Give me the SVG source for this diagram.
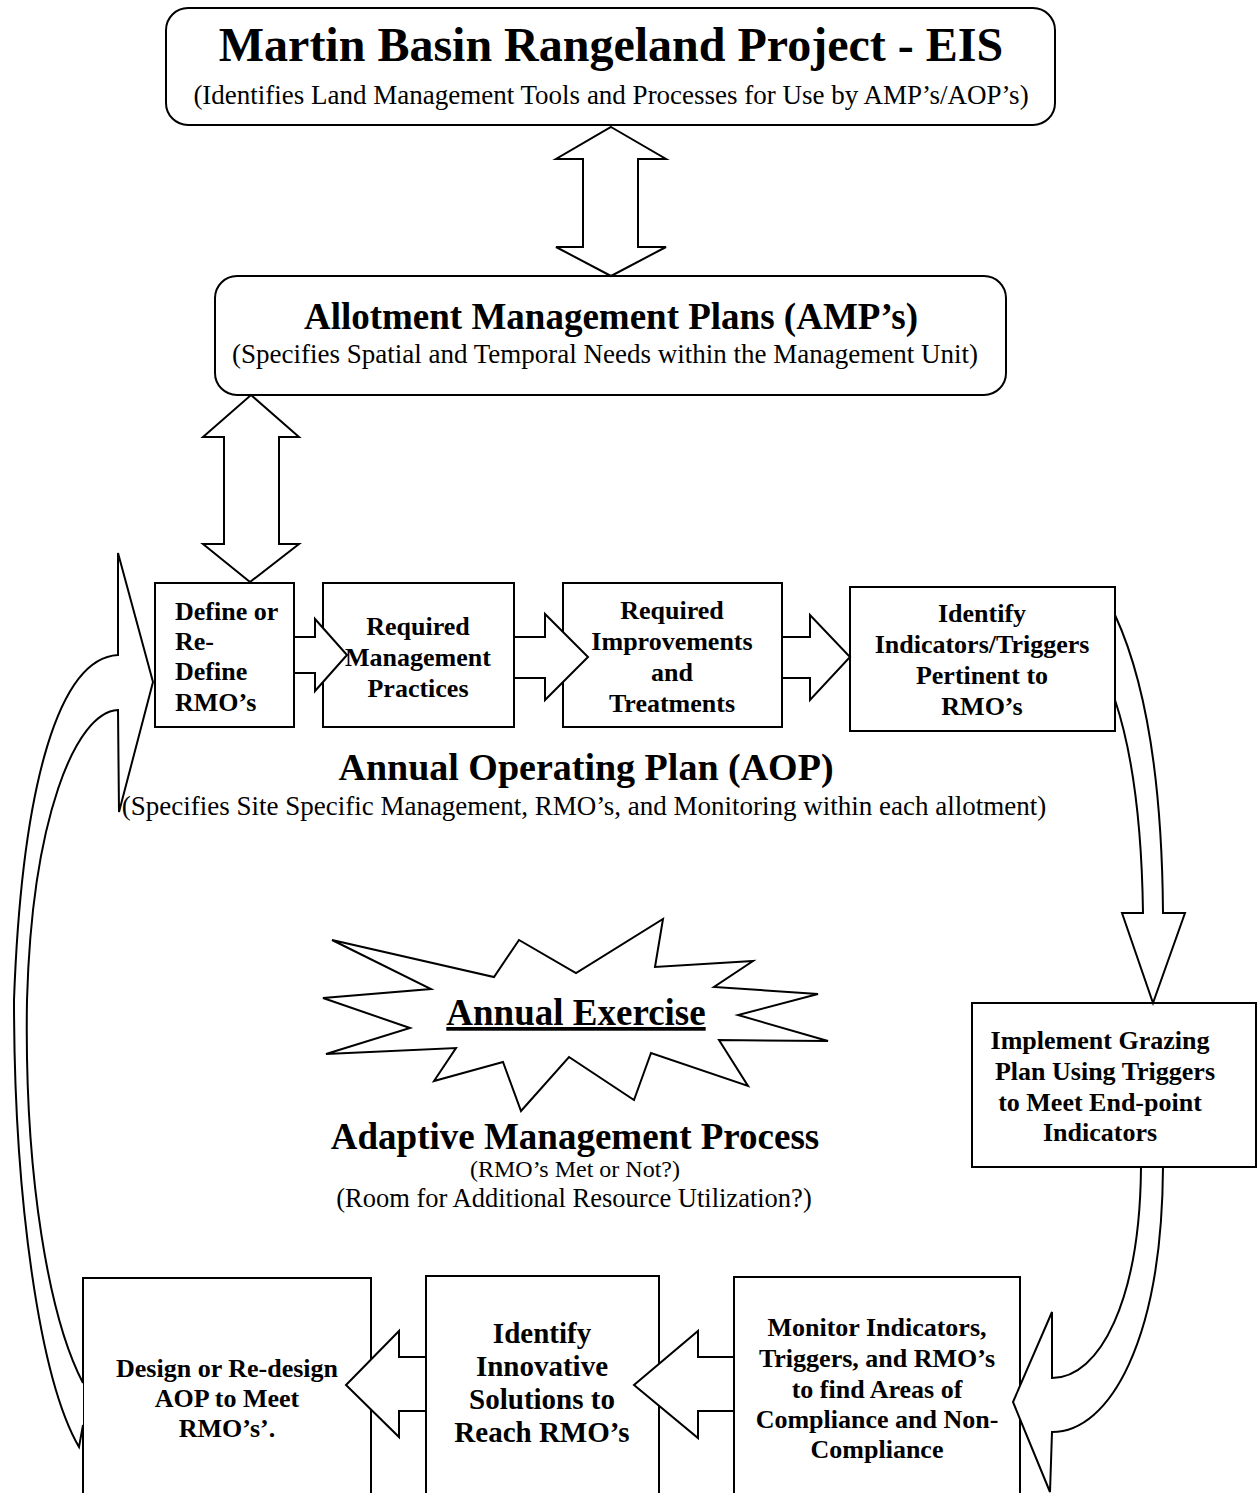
<svg xmlns="http://www.w3.org/2000/svg" width="1257" height="1493" viewBox="0 0 1257 1493">
<style>
  .shape { fill: #fff; stroke: #000; stroke-width: 2; stroke-linejoin: miter; }
  .conn { fill: #fff; stroke: #000; stroke-width: 2; stroke-linejoin: miter; }
  text { font-family: "Liberation Serif", "Times New Roman", serif; fill: #000; }
  .title { font-size: 48px; font-weight: bold; text-anchor: middle; }
  .head { font-size: 37px; font-weight: bold; text-anchor: middle; }
  .sub { font-size: 27px; text-anchor: middle; }
  .sub2 { font-size: 24px; text-anchor: middle; }
  .sub3 { font-size: 26.5px; text-anchor: middle; }
  .bt { font-size: 26px; font-weight: bold; text-anchor: middle; }
  .btl { font-size: 26px; font-weight: bold; }
  .bt29 { font-size: 29px; font-weight: bold; text-anchor: middle; }
</style>

<g id="eis">
  <rect class="shape" x="166" y="8" width="889" height="117" rx="22" ry="22"/>
  <text class="title" x="611" y="61">Martin Basin Rangeland Project - EIS</text>
  <text class="sub" x="611" y="104">(Identifies Land Management Tools and Processes for Use by AMP’s/AOP’s)</text>
</g>

<g id="amp">
  <rect class="shape" x="215" y="276" width="791" height="119" rx="22" ry="22"/>
  <text class="head" x="611" y="329">Allotment Management Plans (AMP’s)</text>
  <text class="sub" x="605" y="363">(Specifies Spatial and Temporal Needs within the Management Unit)</text>
</g>

<g id="define-rmo">
  <rect class="shape" x="155" y="583" width="139" height="144"/>
  <text class="btl" x="175" y="620">Define or</text>
  <text class="btl" x="175" y="650">Re-</text>
  <text class="btl" x="175" y="680">Define</text>
  <text class="btl" x="175" y="711">RMO’s</text>
</g>

<g id="mgmt-practices">
  <rect class="shape" x="323" y="583" width="191" height="144"/>
  <text class="bt" x="418" y="635">Required</text>
  <text class="bt" x="418" y="666">Management</text>
  <text class="bt" x="418" y="697">Practices</text>
</g>

<g id="improvements">
  <rect class="shape" x="563" y="583" width="219" height="144"/>
  <text class="bt" x="672" y="619">Required</text>
  <text class="bt" x="672" y="650">Improvements</text>
  <text class="bt" x="672" y="681">and</text>
  <text class="bt" x="672" y="712">Treatments</text>
</g>

<g id="indicators">
  <rect class="shape" x="850" y="587" width="265" height="144"/>
  <text class="bt" x="982" y="622">Identify</text>
  <text class="bt" x="982" y="653">Indicators/Triggers</text>
  <text class="bt" x="982" y="684">Pertinent to</text>
  <text class="bt" x="982" y="715">RMO’s</text>
</g>

<g id="aop-label">
  <text class="head" x="586" y="780" style="font-size:38px">Annual Operating Plan (AOP)</text>
  <text class="sub" x="584" y="815">(Specifies Site Specific Management, RMO’s, and Monitoring within each allotment)</text>
</g>

<g id="annual-exercise">
  <polygon class="shape" points="332,940 494,977 519,940 576,973 663,919 655,967 753,961 714,987 818,994 738,1015 828,1041 719,1040 748,1086 651,1053 634,1100 569,1057 521,1111 503,1062 434,1081 456,1048 326,1054 410,1028 323,998 431,989"/>
  <text class="head" x="576" y="1025" text-decoration="underline">Annual Exercise</text>
</g>

<g id="adaptive-label">
  <text class="head" x="575" y="1149">Adaptive Management Process</text>
  <text class="sub2" x="575" y="1177">(RMO’s Met or Not?)</text>
  <text class="sub3" x="574" y="1207">(Room for Additional Resource Utilization?)</text>
</g>

<g id="implement">
  <rect class="shape" x="972" y="1003" width="284" height="164"/>
  <text class="bt" x="1100" y="1049">Implement Grazing</text>
  <text class="bt" x="1105" y="1080">Plan Using Triggers</text>
  <text class="bt" x="1100" y="1111">to Meet End-point</text>
  <text class="bt" x="1100" y="1141">Indicators</text>
</g>

<g id="monitor">
  <rect class="shape" x="734" y="1277" width="286" height="220"/>
  <text class="bt" x="877" y="1336">Monitor Indicators,</text>
  <text class="bt" x="877" y="1367">Triggers, and RMO’s</text>
  <text class="bt" x="877" y="1398">to find Areas of</text>
  <text class="bt" x="877" y="1428">Compliance and Non-</text>
  <text class="bt" x="877" y="1458">Compliance</text>
</g>

<g id="innovative">
  <rect class="shape" x="426" y="1276" width="233" height="220"/>
  <text class="bt29" x="542" y="1343">Identify</text>
  <text class="bt29" x="542" y="1376">Innovative</text>
  <text class="bt29" x="542" y="1409">Solutions to</text>
  <text class="bt29" x="542" y="1442">Reach RMO’s</text>
</g>

<g id="design">
  <rect class="shape" x="83" y="1278" width="288" height="220"/>
  <text class="bt" x="227" y="1377">Design or Re-design</text>
  <text class="bt" x="227" y="1407">AOP to Meet</text>
  <text class="bt" x="227" y="1437">RMO’s’.</text>
</g>

<g id="connectors">
  <polygon class="conn" points="611,127 666,159 638,159 638,247 666,247 611,276 556,247 583,247 583,159 556,159"/>
  <polygon class="conn" points="251,395 299,437 279,437 279,544 299,544 250,582 203,544 224,544 224,437 203,437"/>
  <polygon class="conn" points="294,637 315,637 315,619 347,655 315,691 315,673 294,673"/>
  <polygon class="conn" points="514,637 545,637 545,614 588,657 545,700 545,678 514,678"/>
  <polygon class="conn" points="782,637 810,637 810,615 850,657 810,700 810,678 782,678"/>
  <path class="conn" d="M1115,615 C1145,680 1162,780 1163,913 L1185,913 L1153,1003 L1122,913 L1143,913 C1142,840 1135,760 1115,700 Z"/>
  <path class="conn" d="M1141,1167 C1140,1300 1100,1378 1052,1378 L1052,1312 L1013,1402 L1050,1492 L1052,1432 C1110,1432 1162,1340 1163,1167 Z"/>
  <polygon class="conn" points="734,1357 698,1357 698,1331 634,1385 698,1438 698,1411 734,1411"/>
  <polygon class="conn" points="426,1357 399,1357 399,1331 346,1385 399,1437 399,1411 426,1411"/>
  <path class="conn" d="M83,1383 C50,1320 24,1180 27,1000 C32,820 75,712 118,710 L119,812 L153,682 L118,553 L118,655 C60,658 22,780 14,1000 C14,1200 40,1380 79,1447 L83,1425"/>
</g>
</svg>
